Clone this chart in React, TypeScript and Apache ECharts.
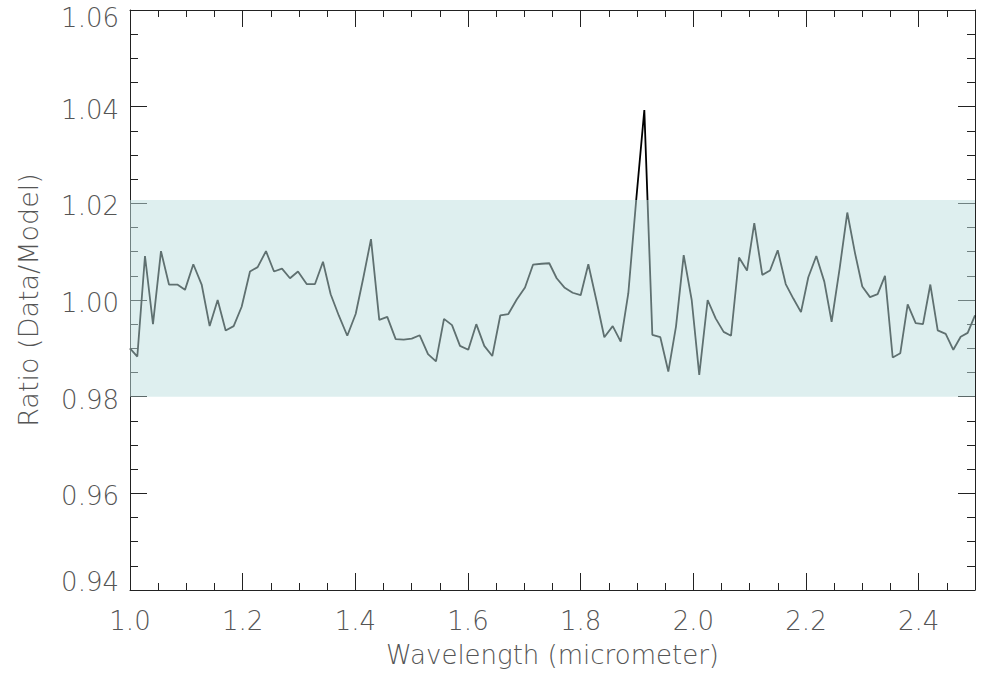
import React, { useEffect, useRef } from "react";
import * as echarts from "echarts";

const wavelength = [
  1.0, 1.013, 1.0266, 1.0408, 1.055, 1.0692, 1.084, 1.0976, 1.1124, 1.1272,
  1.1414, 1.1556, 1.1698, 1.184, 1.1982, 1.213, 1.2266, 1.2414, 1.2556, 1.2698,
  1.284, 1.2982, 1.3136, 1.3284, 1.3426, 1.3562, 1.3706, 1.3857, 1.4006, 1.414,
  1.4278, 1.4425, 1.4567, 1.4716, 1.4859, 1.5001, 1.5143, 1.529, 1.5432, 1.5574,
  1.5716, 1.5858, 1.6005, 1.6147, 1.6289, 1.6431, 1.6573, 1.6716, 1.6865, 1.7012,
  1.7154, 1.7308, 1.7443, 1.7574, 1.771, 1.7858, 1.8, 1.8136, 1.8284, 1.842,
  1.8569, 1.8711, 1.8846, 1.8988, 1.913, 1.9272, 1.9414, 1.9556, 1.9692, 1.9829,
  1.9971, 2.0105, 2.0254, 2.0396, 2.0538, 2.0669, 2.0811, 2.0953, 2.1082, 2.1224,
  2.1361, 2.1498, 2.164, 2.1775, 2.1911, 2.2041, 2.2183, 2.2325, 2.2455, 2.2598,
  2.2733, 2.287, 2.2999, 2.3136, 2.3272, 2.3402, 2.3539, 2.3674, 2.3805, 2.3947,
  2.4077, 2.4207, 2.4338, 2.448, 2.4615, 2.4746, 2.487, 2.5,
];

const ratio = [
  0.99, 0.9883, 1.0091, 0.995, 1.0101, 1.0032, 1.0032, 1.0021, 1.0074, 1.0032,
  0.9946, 1.0, 0.9937, 0.9946, 0.9986, 1.0059, 1.0068, 1.0101, 1.0059, 1.0065,
  1.0045, 1.0059, 1.0033, 1.0033, 1.0079, 1.0012, 0.9968, 0.9926, 0.9971, 1.0045,
  1.0126, 0.9959, 0.9965, 0.9919, 0.9918, 0.992, 0.9927, 0.9888, 0.9873, 0.9961,
  0.9948, 0.9905, 0.9897, 0.995, 0.9905, 0.9884, 0.9968, 0.9971, 1.0001, 1.0026,
  1.0073, 1.0075, 1.0076, 1.0045, 1.0026, 1.0015, 1.001, 1.0074, 0.9997, 0.9923,
  0.9946, 0.9914, 1.0014, 1.021, 1.0393, 0.9928, 0.9923, 0.9852, 0.9945, 1.0093,
  1.0, 0.9845, 1.0, 0.9962, 0.9934, 0.9926, 1.0088, 1.0061, 1.0159, 1.0052,
  1.0061, 1.0103, 1.0033, 1.0003, 0.9975, 1.0047, 1.0091, 1.0038, 0.9955, 1.0066,
  1.0181, 1.0097, 1.0028, 1.0006, 1.0012, 1.005, 0.9881, 0.989, 0.9991, 0.9952,
  0.995, 1.0032, 0.9937, 0.993, 0.9897, 0.9924, 0.9932, 0.9968,
];

const bandRange = [0.98, 1.0207];
const xRange = [1.0, 2.5];
const yRange = [0.94, 1.06];

const FONT = '"DejaVu Sans ExtraLight", "DejaVu Sans", Roboto, sans-serif';
const TEXT_COLOR = "#555";
const AXIS_COLOR = "#222";

export default function App() {
  const ref = useRef<HTMLDivElement>(null);

  useEffect(() => {
    if (!ref.current) return;
    const chart = echarts.init(ref.current, undefined, { renderer: "svg" });

    const lineStyle = { color: AXIS_COLOR, width: 1 };
    const xBase = { type: "value", min: xRange[0], max: xRange[1], splitLine: { show: false } };
    const yBase = {
      type: "value",
      min: yRange[0],
      max: yRange[1],
      interval: 0.02,
      splitLine: { show: false },
    };
    const labelText = {
      fontFamily: FONT,
      fontSize: 26,
      fontWeight: 300,
      color: TEXT_COLOR,
    };
    const labelOnly = (keep: number, verticalAlign: string, lineHeight: number) => ({
      ...yBase,
      position: "left",
      axisLine: { show: false },
      axisTick: { show: false },
      axisLabel: {
        ...labelText,
        show: true,
        margin: 11,
        verticalAlign,
        lineHeight,
        formatter: (v: number) => (Math.abs(v - keep) < 1e-6 ? v.toFixed(2) : ""),
      },
    });

    chart.setOption({
      animation: false,
      backgroundColor: "#fff",
      grid: { left: 130, right: 8, top: 10, bottom: 83, containLabel: false },
      xAxis: [
        {
          ...xBase,
          position: "bottom",
          interval: 0.2,
          name: "Wavelength (micrometer)",
          nameLocation: "middle",
          nameGap: 52,
          nameTextStyle: { fontFamily: FONT, fontSize: 26, color: TEXT_COLOR, fontWeight: 300 },
          axisLine: { show: true, lineStyle },
          axisTick: { show: true, inside: true, length: 17, lineStyle },
          axisLabel: {
            ...labelText,
            show: true,
            margin: 18,
            showMaxLabel: false,
            formatter: (v: number) => v.toFixed(1),
          },
        },
        {
          ...xBase,
          position: "bottom",
          interval: 0.05,
          axisLine: { show: false },
          axisTick: { show: true, inside: true, length: 7, lineStyle },
          axisLabel: { show: false },
        },
        {
          ...xBase,
          position: "top",
          interval: 0.2,
          axisLine: { show: true, lineStyle },
          axisTick: { show: true, inside: true, length: 17, lineStyle },
          axisLabel: { show: false },
        },
        {
          ...xBase,
          position: "top",
          interval: 0.05,
          axisLine: { show: false },
          axisTick: { show: true, inside: true, length: 7, lineStyle },
          axisLabel: { show: false },
        },
      ],
      yAxis: [
        {
          ...yBase,
          position: "left",
          name: "Ratio (Data/Model)",
          nameLocation: "middle",
          nameGap: 88,
          nameTextStyle: { fontFamily: FONT, fontSize: 27, color: TEXT_COLOR, fontWeight: 300 },
          axisLine: { show: true, lineStyle },
          axisTick: { show: true, inside: true, length: 17, lineStyle },
          minorTick: { show: true, splitNumber: 4, length: 8, lineStyle },
          axisLabel: {
            ...labelText,
            show: true,
            margin: 11,
            verticalAlign: "top",
            lineHeight: 6,
            showMinLabel: false,
            showMaxLabel: false,
            formatter: (v: number) => v.toFixed(2),
          },
        },
        {
          ...yBase,
          position: "right",
          axisLine: { show: true, lineStyle },
          axisTick: { show: true, inside: true, length: 17, lineStyle },
          minorTick: { show: true, splitNumber: 4, length: 8, lineStyle },
          axisLabel: { show: false },
        },
        labelOnly(yRange[1], "top", 16),
        labelOnly(yRange[0], "bottom", 16),
      ],
      series: [
        {
          type: "line",
          xAxisIndex: 0,
          yAxisIndex: 0,
          z: 2,
          symbol: "none",
          lineStyle: { color: "#000", width: 1.8 },
          data: wavelength.map((w, i) => [w, ratio[i]]),
        },
        {
          type: "line",
          xAxisIndex: 0,
          yAxisIndex: 0,
          z: 5,
          symbol: "none",
          data: [],
          markArea: {
            silent: true,
            z: 5,
            itemStyle: { color: "rgba(190,224,224,0.5)", borderWidth: 0 },
            data: [[{ xAxis: xRange[0], yAxis: bandRange[0] }, { xAxis: xRange[1], yAxis: bandRange[1] }]],
          },
        },
      ],
    });

    return () => chart.dispose();
  }, []);

  return (
    <div
      ref={ref}
      style={{ position: "fixed", left: 0, top: 0, width: 983, height: 673 }}
    />
  );
}
